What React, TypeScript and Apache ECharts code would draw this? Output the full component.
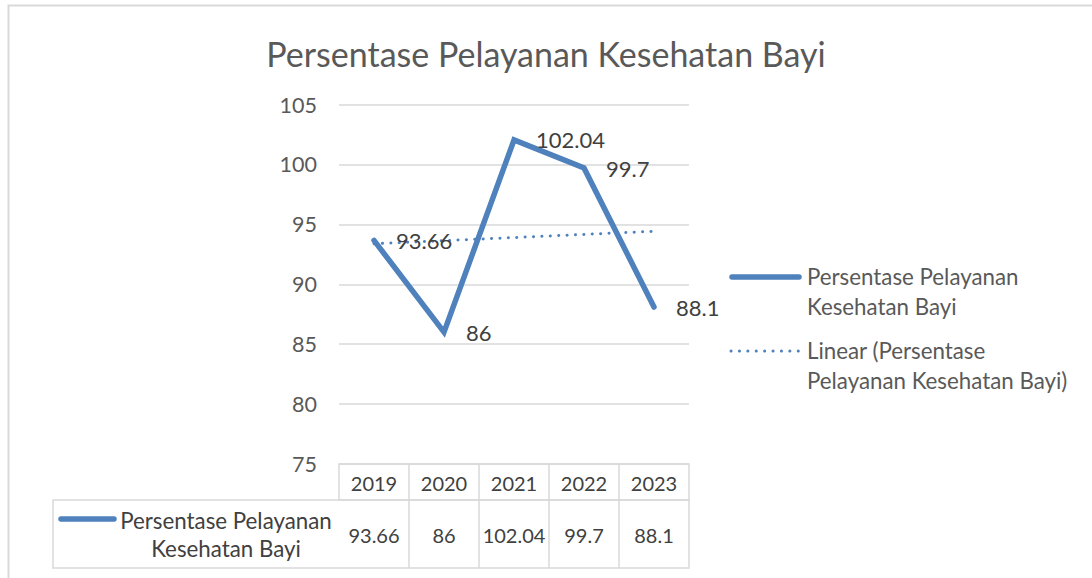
import React, { useEffect, useRef } from "react";
import * as echarts from "echarts";

const TITLE = "Persentase Pelayanan Kesehatan Bayi";
const SERIES_NAME = "Persentase Pelayanan Kesehatan Bayi";
const TREND_NAME = "Linear (Persentase Pelayanan Kesehatan Bayi)";
const categories = ["2019", "2020", "2021", "2022", "2023"];
const values = [93.66, 86, 102.04, 99.7, 88.1];
// trendline endpoints (first and last category)
const trendValues: (number | string)[] = [93.38, "-", "-", "-", 94.42];
const yMin = 75;
const yMax = 105;
const yInterval = 5;

const W = 1092;
const H = 578;
const GL = 339;
const GR = 689;
const GT = 104.5;
const GB = 464;
const ROW1_B = 500;
const ROW2_B = 568;
const TABLE_L = 53;

const BLUE = "#4F81BD";
const GRID = "#d9d9d9";
const TXT = "#404040";
const FONT = "Lato";
const WORD_SIZE = 22.3;

export default function App() {
  const ref = useRef<HTMLDivElement>(null);
  useEffect(() => {
    if (!ref.current) return;
    const chart = echarts.init(ref.current, undefined, { renderer: "svg" });
    const colW = (GR - GL) / categories.length;
    const graphic: any[] = [];
    // outer chart border
    graphic.push({
      type: "rect",
      shape: { x: 8.5, y: 5.5, width: 1200, height: 700 },
      style: { fill: "none", stroke: GRID, lineWidth: 2 },
      silent: true,
    });
    // table header row
    graphic.push({
      type: "rect",
      shape: { x: GL, y: GB, width: GR - GL, height: ROW1_B - GB },
      style: { fill: "none", stroke: GRID, lineWidth: 1.5 },
    });
    // table data row
    graphic.push({
      type: "rect",
      shape: { x: TABLE_L, y: ROW1_B, width: GR - TABLE_L, height: ROW2_B - ROW1_B },
      style: { fill: "none", stroke: GRID, lineWidth: 1.5 },
    });
    for (let i = 1; i < categories.length; i++) {
      const x = GL + i * colW;
      graphic.push({
        type: "line",
        shape: { x1: x, y1: GB, x2: x, y2: ROW2_B },
        style: { stroke: GRID, lineWidth: 1.5 },
      });
    }
    values.forEach((v, i) => {
      graphic.push({
        type: "text",
        x: GL + (i + 0.5) * colW,
        y: (ROW1_B + ROW2_B) / 2 + 1,
        style: {
          text: String(v),
          fontSize: 20,
          fontFamily: FONT,
          fill: TXT,
          align: "center",
          verticalAlign: "middle",
        },
      });
    });
    // table legend key
    graphic.push({
      type: "line",
      shape: { x1: 61, y1: 519, x2: 114, y2: 519 },
      style: { stroke: BLUE, lineWidth: 5.5, lineCap: "round" },
    });
    graphic.push({
      type: "text",
      x: 226,
      y: 506,
      style: {
        text: "Persentase Pelayanan\nKesehatan Bayi",
        fontSize: WORD_SIZE,
        fontFamily: FONT,
        fill: TXT,
        align: "center",
        verticalAlign: "top",
        lineHeight: 28,
      },
    });
    // right legend
    graphic.push({
      type: "line",
      shape: { x1: 732, y1: 277, x2: 799, y2: 277 },
      style: { stroke: BLUE, lineWidth: 5.5, lineCap: "round" },
    });
    graphic.push({
      type: "text",
      x: 807,
      y: 262,
      style: {
        text: "Persentase Pelayanan\nKesehatan Bayi",
        fontSize: WORD_SIZE,
        fontFamily: FONT,
        fill: "#595959",
        align: "left",
        verticalAlign: "top",
        lineHeight: 29.5,
      },
    });
    graphic.push({
      type: "line",
      shape: { x1: 731, y1: 351, x2: 800, y2: 351 },
      style: { stroke: BLUE, lineWidth: 3, lineCap: "round", lineDash: [0.1, 8.3] },
    });
    graphic.push({
      type: "text",
      x: 807,
      y: 336,
      style: {
        text: "Linear (Persentase\nPelayanan Kesehatan Bayi)",
        fontSize: WORD_SIZE,
        fontFamily: FONT,
        fill: "#595959",
        align: "left",
        verticalAlign: "top",
        lineHeight: 29.5,
      },
    });

    chart.setOption({
      animation: false,
      backgroundColor: "#ffffff",
      title: {
        text: TITLE,
        left: "center",
        top: 31,
        textStyle: { fontSize: 34, fontWeight: "normal", color: "#595959", fontFamily: FONT },
      },
      grid: { left: GL, right: W - GR, top: GT, bottom: H - GB, containLabel: false },
      xAxis: {
        type: "category",
        data: categories,
        boundaryGap: true,
        axisLine: { show: false },
        axisTick: { show: false },
        axisLabel: { margin: 9, fontSize: 20, color: TXT, fontFamily: FONT },
      },
      yAxis: {
        type: "value",
        min: yMin,
        max: yMax,
        interval: yInterval,
        axisLine: { show: false },
        axisTick: { show: false },
        axisLabel: { margin: 22, fontSize: 21.5, color: "#595959", fontFamily: FONT },
        splitLine: { lineStyle: { color: GRID, width: 1.5 } },
      },
      series: [
        {
          name: SERIES_NAME,
          type: "line",
          data: values,
          symbol: "circle",
          symbolSize: 0.1,
          showSymbol: true,
          itemStyle: { color: BLUE },
          lineStyle: { color: BLUE, width: 5.5, cap: "round", join: "miter" },
          label: {
            show: true,
            position: "right",
            distance: 22,
            fontSize: 22,
            color: TXT,
            fontFamily: FONT,
          },
          z: 3,
        },
        {
          name: TREND_NAME,
          type: "line",
          data: trendValues,
          connectNulls: true,
          symbol: "none",
          lineStyle: { color: BLUE, width: 3, type: [0.1, 8.3], cap: "round" },
          z: 2,
        },
      ],
      graphic,
    });
    return () => chart.dispose();
  }, []);
  return (
    <div
      ref={ref}
      style={{ position: "absolute", left: 0, top: 0, width: W, height: H }}
    />
  );
}
